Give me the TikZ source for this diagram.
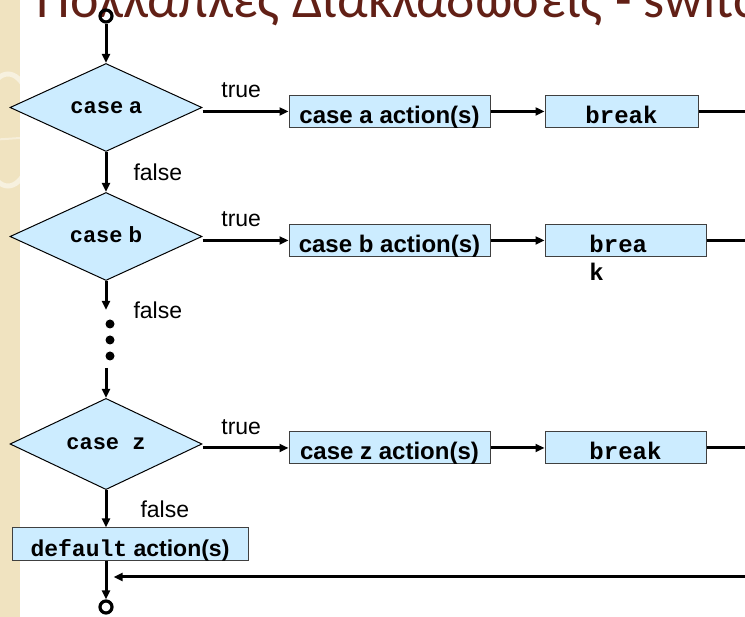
\documentclass[tikz,border=0pt]{standalone}
\usepackage{fontspec}
\setmainfont{Liberation Sans}
\setmonofont{Liberation Mono}
\newfontfamily\titlefont{Carlito}
\usetikzlibrary{arrows.meta, shapes.geometric}
\definecolor{boxblue}{RGB}{204,236,255}
\definecolor{boxline}{RGB}{64,64,64}
\definecolor{strip}{RGB}{240,227,192}
\definecolor{titlered}{RGB}{98,32,22}

\begin{document}
\begin{tikzpicture}[x=1pt, y=-1pt, ->, >={Triangle[length=9pt, width=8pt]}, line width=3pt,
	dia/.style={diamond, draw=black, line width=1pt, fill=boxblue, minimum width=192pt, minimum height=88pt,
		inner sep=0pt, text height=12pt, text depth=0pt, font=\fontsize{22}{26}\selectfont\bfseries},
	act/.style={rectangle, draw=boxline, line width=1pt, fill=boxblue, minimum height=32pt,
		inner sep=0pt, text height=25pt, text depth=1pt, font=\fontsize{24}{28}\selectfont\bfseries},
	lbl/.style={inner sep=0pt, font=\fontsize{23}{27}\selectfont},
	term/.style={circle, draw=black, line width=3.2pt, minimum size=12pt, inner sep=0pt},
	blob/.style={circle, fill=black, draw=none, minimum size=9pt, inner sep=0pt}]
		\useasboundingbox (0,0) rectangle (745,617);
		\clip (0,0) rectangle (745,617);
		% slide background
		\begin{scope}[-]
			\fill[strip] (0,0) rectangle (20,617);
			\clip (0,0) rectangle (20,617);
			\draw[white, opacity=.5, line width=5pt] (8,130) ellipse [x radius=26, y radius=56];
			\draw[white, opacity=.4, line width=2pt] (-10,140) -- (20,138);
		\end{scope}
		\node[anchor=base west, inner sep=0pt, text=titlered, font=\titlefont\fontsize{54}{58}\selectfont]
			(title) at (35,18) {Πολλαπλές Διακλαδώσεις - switch};

		% decisions
		\node[term]	(S)	at (106,16)	{};
		\node[dia]	(A)	at (106,107.5)	{\texttt{case} a};
		\node[dia]	(B)	[below of=A, node distance=129pt]	{\texttt{case} b};
		\node[dia]	(Z)	[below of=B, node distance=207.5pt]	{\texttt{case z}};

		% actions
		\node[act, minimum width=201pt]	(acta)	[right of=A, node distance=283.5pt, yshift=-4pt]	{case a action(s)};
		\node[act, minimum width=201pt]	(actb)	[right of=B, node distance=283.5pt, yshift=-4pt]	{case b action(s)};
		\node[act, minimum width=201pt]	(actz)	[right of=Z, node distance=283.5pt, yshift=-4pt]	{case z action(s)};
		\node[act, minimum width=153pt]	(brka)	[right of=acta, node distance=232pt]	{\texttt{break}};
		\node[act, minimum width=161pt]	(brkb)	[right of=actb, node distance=236pt]
			{\texttt{\begin{tabular}[t]{@{}l@{}}brea\phantom{k}\\k\end{tabular}}};
		\node[act, minimum width=161pt]	(brkz)	[right of=actz, node distance=236pt]	{\texttt{break}};
		\node[act, minimum width=236pt, minimum height=33pt, font=\fontsize{23}{27}\selectfont\bfseries]
			(dflt)	at (130,544.5)	{\texttt{default} action(s)};
		\node[term]	(E)	at (106,607)	{};

		\coordinate (rim) at (745,0);
		\coordinate (bgap) at (106,310);
		\coordinate (zgap) at (106,368);
		\coordinate (back) at (745,577);
		\foreach \i in {1,2,3}
			\node[blob] (dot\i) at (110,308+16*\i) {};

		% connectors
		\draw (S) -- (A);
		\draw (A.east |- acta.west) -- node[lbl, above=12pt, pos=.45] {true} (acta.west);
		\draw (B.east |- actb.west) -- node[lbl, above=12pt, pos=.45] {true} (actb.west);
		\draw (Z.east |- actz.west) -- node[lbl, above=12pt, pos=.45] {true} (actz.west);
		\draw (acta) -- (brka);
		\draw (actb) -- (brkb);
		\draw (actz) -- (brkz);
		\draw[-] (brka) -- (brka -| rim);
		\draw[-] (brkb) -- (brkb -| rim);
		\draw[-] (brkz) -- (brkz -| rim);
		\draw (A) -- node[lbl, right=26pt] {false} (B);
		\draw (B) -- node[lbl, right=26pt, pos=1] {false} (bgap);
		\draw (zgap) -- (Z);
		\draw (Z) -- node[lbl, right=33pt] {false} (Z.south |- dflt.north);
		\draw (dflt.south -| E) -- (E);
		\draw (back) -- (back -| E.east);
\end{tikzpicture}
\end{document}
